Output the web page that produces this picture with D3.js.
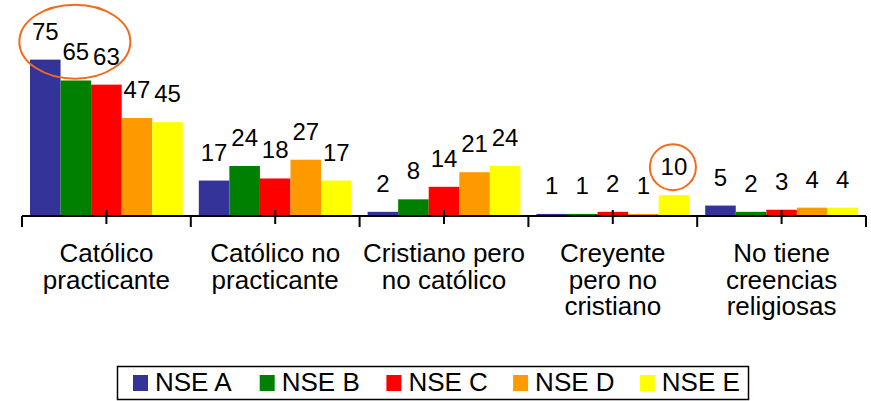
<!DOCTYPE html>
<html>
<head>
<meta charset="utf-8">
<script src="https://cdn.jsdelivr.net/npm/d3@7"></script>
<style>
  body { margin: 0; background: #fff; }
  text { font-family: Arial, "Liberation Sans", sans-serif; fill: #000; }
</style>
</head>
<body>
<div id="chart"></div>
<script>
// Categories (label lines) and series
var categories = ["Católico practicante", "Católico no practicante", "Cristiano pero no católico", "Creyente pero no cristiano", "No tiene creencias religiosas"];
var categoryLines = [
  ["Católico", "practicante"],
  ["Católico no", "practicante"],
  ["Cristiano pero", "no católico"],
  ["Creyente", "pero no", "cristiano"],
  ["No tiene", "creencias", "religiosas"]
];
var seriesNames = ["NSE A", "NSE B", "NSE C", "NSE D", "NSE E"];
var seriesColors = ["#333399", "#008000", "#ff0000", "#ff9900", "#ffff00"];

var nseA = [75, 17, 2, 1, 5];
var nseB = [65, 24, 8, 1, 2];
var nseC = [63, 18, 14, 2, 3];
var nseD = [47, 27, 21, 1, 4];
var nseE = [45, 17, 24, 10, 4];
var seriesValues = [nseA, nseB, nseC, nseD, nseE];

var width = 871, height = 401;
var axisY = 216;

var svg = d3.select("#chart").append("svg")
  .attr("width", width)
  .attr("height", height);

// Scales
var x0 = d3.scaleBand()
  .domain(categories)
  .range([22, 866])
  .padding(0);

var x1 = d3.scaleBand()
  .domain(seriesNames)
  .range([8, x0.bandwidth() - 8])
  .padding(0);

var y = d3.scaleLinear()
  .domain([0, 80])
  .range([axisY, axisY - 80 * 2.085]);

// Flatten data
var bars = [];
categories.forEach(function(c, i) {
  seriesNames.forEach(function(s, j) {
    bars.push({cat: c, series: s, value: seriesValues[j][i], color: seriesColors[j]});
  });
});

// Bars
svg.append("g").selectAll("rect")
  .data(bars)
  .enter()
  .append("rect")
  .attr("x", function(d) { return x0(d.cat) + x1(d.series); })
  .attr("y", function(d) { return y(d.value); })
  .attr("width", x1.bandwidth())
  .attr("height", function(d) { return y(0) - y(d.value); })
  .attr("fill", function(d) { return d.color; });

// Value labels
svg.append("g").selectAll("text")
  .data(bars)
  .enter()
  .append("text")
  .attr("x", function(d) { return x0(d.cat) + x1(d.series) + x1.bandwidth() / 2; })
  .attr("y", function(d) { return y(d.value) - 20; })
  .attr("text-anchor", "middle")
  .style("font-size", "24px")
  .text(function(d) { return d.value; });

// Axis line and ticks
var axis = svg.append("g");
axis.append("line")
  .attr("x1", x0.range()[0]).attr("x2", x0.range()[1])
  .attr("y1", axisY).attr("y2", axisY)
  .attr("stroke", "#000").attr("stroke-width", 2);

var bounds = categories.map(function(c) { return x0(c); }).concat([x0.range()[1]]);
axis.selectAll(".btick")
  .data(bounds)
  .enter()
  .append("line")
  .attr("x1", function(d) { return d; }).attr("x2", function(d) { return d; })
  .attr("y1", axisY).attr("y2", axisY + 11)
  .attr("stroke", "#000").attr("stroke-width", 2);

axis.selectAll(".mtick")
  .data(categories)
  .enter()
  .append("line")
  .attr("x1", function(d) { return x0(d) + x0.bandwidth() / 2; })
  .attr("x2", function(d) { return x0(d) + x0.bandwidth() / 2; })
  .attr("y1", axisY - 6).attr("y2", axisY + 8)
  .attr("stroke", "#000").attr("stroke-width", 2);

// Category labels
var catLabels = svg.append("g").selectAll("text")
  .data(categories)
  .enter()
  .append("text")
  .attr("text-anchor", "middle")
  .attr("x", function(d) { return x0(d) + x0.bandwidth() / 2; })
  .attr("y", 262)
  .style("font-size", "26px");

catLabels.selectAll("tspan")
  .data(function(d, i) { return categoryLines[i]; })
  .enter()
  .append("tspan")
  .attr("x", function() { return this.parentNode.getAttribute("x"); })
  .attr("dy", function(d, i) { return i === 0 ? 0 : 26.5; })
  .text(function(d) { return d; });

// Highlight annotations
var orange = "#f26a1b";
svg.append("ellipse")
  .attr("cx", x0(categories[0]) + x1("NSE B") + x1.bandwidth() / 2 - 1)
  .attr("cy", y(nseA[0]) - 18)
  .attr("rx", 55.5)
  .attr("ry", 37)
  .attr("fill", "none")
  .attr("stroke", orange)
  .attr("stroke-width", 2);

svg.append("circle")
  .attr("cx", x0(categories[3]) + x1("NSE E") + x1.bandwidth() / 2 - 1)
  .attr("cy", y(nseE[3]) - 28)
  .attr("r", 23)
  .attr("fill", "none")
  .attr("stroke", orange)
  .attr("stroke-width", 2);

// Legend
var legend = svg.append("g");
legend.append("rect")
  .attr("x", 117.5).attr("y", 366.5)
  .attr("width", 631).attr("height", 33)
  .attr("fill", "#fff")
  .attr("stroke", "#000")
  .attr("stroke-width", 1.5);

var legendX = d3.scalePoint()
  .domain(seriesNames)
  .range([133, 133 + 4 * 126.7]);

var items = legend.selectAll(".item")
  .data(seriesNames)
  .enter()
  .append("g")
  .attr("transform", function(d) { return "translate(" + legendX(d) + ",0)"; });

items.append("rect")
  .attr("x", 0).attr("y", 375)
  .attr("width", 15).attr("height", 16)
  .attr("fill", function(d, i) { return seriesColors[i]; });

items.append("text")
  .attr("x", 22).attr("y", 391)
  .style("font-size", "26px")
  .text(function(d) { return d; });
</script>
</body>
</html>
